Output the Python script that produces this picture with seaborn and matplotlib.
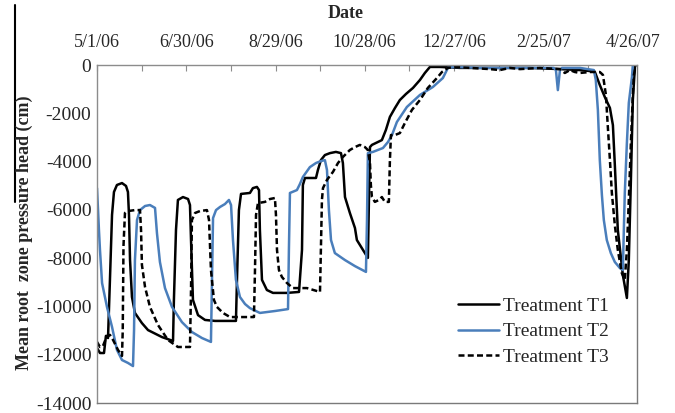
import matplotlib
matplotlib.use("Agg")
import matplotlib.pyplot as plt
from matplotlib.lines import Line2D
import pandas as pd
import seaborn as sns

# ---- axis setup values ----
start_date = pd.Timestamp("2006-05-01")
end_day = 363
label_days = [0, 60, 120, 180, 240, 300, 360]
label_texts = ["5/1/06", "6/30/06", "8/29/06", "10/28/06", "12/27/06", "2/25/07", "4/26/07"]
minor_days = [30, 90, 150, 210, 270, 330]
y_ticks = [0, -2000, -4000, -6000, -8000, -10000, -12000, -14000]

# ---- Treatment T1: days since 5/1/06, mean root zone pressure head (cm) ----
t1_days = [0, 2.0, 4.7, 6.0, 7.4, 8.7, 10.1, 11.4, 13.4, 16.8, 19.5, 20.8, 21.5, 22.2,
           23.5, 25.5, 30.2, 34.3, 43.7, 51.1, 51.7, 53.1, 54.4, 57.8, 61.2, 62.5, 63.2,
           64.5, 67.9, 72.6, 79.3, 93.4, 94.1, 95.4, 96.8, 102.8, 104.8, 107.5, 108.9,
           109.5, 110.9, 114.2, 118.3, 127.7, 135.8, 137.8, 138.4, 139.8, 147.2, 148.5,
           150.5, 153.2, 156.6, 160.6, 164.0, 165.3, 166.7, 170.0, 173.4, 174.7, 178.8,
           182.1, 182.8, 183.5, 184.8, 191.5, 194.2, 196.9, 200.3, 203.6, 207.7, 212.4,
           217.1, 220.4, 223.8, 230.5, 244.0, 270.8, 291.0, 311.2, 324.6, 331.3, 334.7,
           338.0, 341.4, 344.8, 346.8, 348.1, 350.1, 353.5, 356.2, 357.5, 358.9, 360.2,
           361.6]
t1_head = [-11720, -11930, -11930, -11220, -11310, -8900, -6210, -5260, -4970, -4890,
           -5010, -5260, -6210, -8080, -9610, -10270, -10690, -10980, -11270, -11430,
           -9730, -6830, -5590, -5470, -5550, -5800, -7250, -9730, -10360, -10560, -10600,
           -10600, -8900, -6010, -5340, -5300, -5100, -5050, -5180, -6830, -8900, -9320,
           -9440, -9440, -9400, -7660, -4970, -4680, -4680, -4350, -3940, -3730, -3650,
           -3600, -3650, -4060, -5470, -6130, -6750, -7250, -7660, -7990, -5590, -3400,
           -3310, -3110, -2690, -2150, -1780, -1450, -1200, -950, -620, -330, -80, -80,
           -120, -120, -120, -170, -210, -250, -290, -830, -1330, -1780, -2490, -4140,
           -6830, -8700, -9650, -8080, -4760, -1450, -80]

# ---- Treatment T2 ----
t2_days = [0, 0.7, 1.3, 2.0, 3.4, 6.7, 10.1, 13.4, 16.8, 20.8, 24.2, 24.9, 25.5, 26.9,
           28.9, 32.3, 35.6, 39.0, 40.3, 42.3, 45.7, 50.4, 57.1, 63.8, 70.6, 76.6, 77.3,
           78.0, 80.0, 82.7, 86.0, 88.7, 90.1, 91.4, 93.4, 96.1, 99.5, 102.8, 109.5,
           119.6, 128.4, 129.0, 129.7, 134.4, 136.4, 138.4, 143.1, 147.2, 150.5, 153.2,
           154.6, 155.9, 157.3, 159.9, 166.7, 173.4, 180.8, 181.5, 182.1, 185.5, 188.8,
           192.2, 195.6, 198.3, 201.6, 208.3, 217.1, 225.8, 232.5, 235.9, 240.6, 257.4,
           284.3, 307.1, 308.5, 309.8, 311.2, 312.5, 324.6, 334.0, 335.3, 336.7, 338.0,
           339.4, 340.7, 342.7, 345.4, 348.1, 351.5, 353.5, 354.2, 354.8, 356.2, 357.5,
           359.6, 360.2]
t2_head = [-5100, -6010, -6830, -7660, -9030, -10020, -10850, -11800, -12220, -12340,
           -12470, -10980, -8080, -6420, -6010, -5840, -5800, -5920, -6960, -8160, -9240,
           -10020, -10650, -11060, -11310, -11470, -8900, -6340, -6010, -5880, -5760,
           -5590, -5800, -7250, -8900, -9610, -9900, -10070, -10270, -10190, -10110,
           -7660, -5300, -5180, -4930, -4640, -4230, -4060, -3980, -3940, -4350, -6010,
           -7250, -7790, -8080, -8330, -8570, -6420, -3650, -3600, -3520, -3440, -3190,
           -2900, -2360, -1740, -1240, -910, -540, -120, -80, -120, -120, -120, -210,
           -1040, -210, -120, -120, -210, -620, -1860, -3940, -5380, -6420, -7250, -7790,
           -8160, -8410, -8490, -6710, -5300, -3230, -1570, -500, 0]

# ---- Treatment T3 ----
t3_days = [0, 2.0, 4.0, 6.7, 8.7, 10.8, 14.1, 16.8, 17.3, 17.8, 18.8, 20.8, 25.5, 28.9,
           29.6, 30.2, 32.3, 35.6, 41.0, 47.7, 54.4, 62.5, 63.2, 63.8, 65.9, 69.2, 73.9,
           75.3, 76.6, 78.6, 80.6, 84.7, 89.4, 105.5, 106.2, 106.9, 108.2, 112.9, 116.3,
           119.6, 120.3, 121.0, 122.3, 124.3, 127.7, 131.7, 141.1, 149.9, 150.5, 151.2,
           151.9, 154.6, 158.6, 162.0, 165.3, 170.0, 173.4, 176.7, 180.1, 182.1, 183.5,
           184.1, 184.8, 186.8, 189.5, 191.5, 193.5, 196.2, 196.9, 197.6, 200.3, 203.6,
           207.0, 211.7, 217.1, 222.4, 228.5, 231.9, 235.9, 240.6, 250.7, 264.1, 270.8,
           277.6, 284.3, 297.7, 311.2, 314.5, 317.9, 321.2, 324.6, 331.3, 338.0, 340.1,
           342.1, 343.4, 344.8, 346.1, 348.1, 350.1, 352.8, 354.8, 356.2, 357.5, 358.9,
           360.2, 360.9, 362.2]
t3_head = [-11470, -11680, -11640, -11220, -11180, -11390, -11800, -12050, -11000, -7500,
           -6130, -6050, -6010, -6010, -6830, -8280, -9200, -10020, -10770, -11390,
           -11680, -11680, -9320, -6420, -6130, -6050, -6010, -6420, -8490, -9730,
           -10020, -10270, -10440, -10440, -8490, -6210, -5720, -5670, -5550, -5510,
           -6210, -7660, -8490, -8780, -9030, -9240, -9240, -9400, -7660, -5590, -5100,
           -4760, -4430, -4060, -3810, -3520, -3400, -3310, -3400, -3520, -4060, -4970,
           -5470, -5670, -5590, -5470, -5670, -5670, -3940, -2900, -2900, -2820, -2400,
           -1860, -1450, -950, -540, -290, -120, -80, -120, -170, -210, -120, -170, -120,
           -170, -330, -210, -290, -330, -290, -290, -410, -1240, -2570, -3940, -5300,
           -6630, -7660, -8620, -8900, -7660, -5590, -3230, -1240, -410, 0]

series = {
    "Treatment T1": (t1_days, t1_head),
    "Treatment T2": (t2_days, t2_head),
    "Treatment T3": (t3_days, t3_head),
}
colors = {"Treatment T1": "#000000", "Treatment T2": "#4A7EBB", "Treatment T3": "#000000"}
styles = {"Treatment T1": "-", "Treatment T2": "-", "Treatment T3": (0, (2.4, 1.3))}

frames = []
for name, (days, head) in series.items():
    frames.append(pd.DataFrame({
        "Date": start_date + pd.to_timedelta(days, unit="D"),
        "Head": head,
        "Treatment": name,
    }))
df = pd.concat(frames, ignore_index=True)

sns.set_theme(style="white")
plt.rcParams["font.family"] = ["Liberation Serif", "DejaVu Serif"]
plt.rcParams["axes.unicode_minus"] = False

fig = plt.figure(figsize=(6.75, 4.13), dpi=100)
ax = fig.add_axes([97 / 675, 10 / 413, 540 / 675, 338 / 413])

for name in series:
    sns.lineplot(data=df[df["Treatment"] == name], x="Date", y="Head", ax=ax,
                 color=colors[name], linestyle=styles[name], linewidth=1.8,
                 estimator=None, sort=False, label=name)

# x axis on top, crossing at zero
ax.set_xlim(start_date, start_date + pd.Timedelta(days=end_day))
ax.set_ylim(-14000, 0)
ax.xaxis.tick_top()
ax.set_xticks([start_date + pd.Timedelta(days=d) for d in label_days])
ax.set_xticklabels(label_texts)
ax.set_xticks([start_date + pd.Timedelta(days=d) for d in minor_days], minor=True)
ax.tick_params(axis="x", which="both", direction="in", length=4.5, width=0.8,
               color="#8c8c8c", top=True, bottom=False, labelsize=13, pad=10)
ax.set_yticks(y_ticks)
ax.set_yticklabels([str(v) for v in y_ticks])
ax.tick_params(axis="y", length=0, labelsize=14, pad=4)
ax.set_xlabel("")
ax.set_ylabel("")

for side in ["left", "right", "bottom", "top"]:
    ax.spines[side].set_visible(True)
    ax.spines[side].set_color("#8c8c8c")
    ax.spines[side].set_linewidth(1.0)
ax.spines["right"].set_color("#7a7a7a")
ax.spines["bottom"].set_color("#7a7a7a")

fig.text(346 / 675, 1 - 13 / 413, "Date", ha="center", va="center",
         fontsize=13, fontweight="bold")
fig.text(24 / 675, 1 - 233 / 413, "Mean root  zone pressure head (cm)", rotation=90,
         ha="center", va="center", fontsize=13, fontweight="bold")

leg = ax.legend(loc="upper left", bbox_to_anchor=(458 / 675, 1 - 297 / 413),
                bbox_transform=fig.transFigure, frameon=False, fontsize=14,
                handlelength=2.1, handletextpad=0.2, labelspacing=0.42,
                borderpad=0, borderaxespad=0)
for line in leg.get_lines():
    line.set_linewidth(1.8)

fig.add_artist(Line2D([15 / 675, 15 / 675], [1 - 5 / 413, 1 - 202 / 413],
                      transform=fig.transFigure, color="black", linewidth=1.5))

fig.savefig("out.png", dpi=100)
